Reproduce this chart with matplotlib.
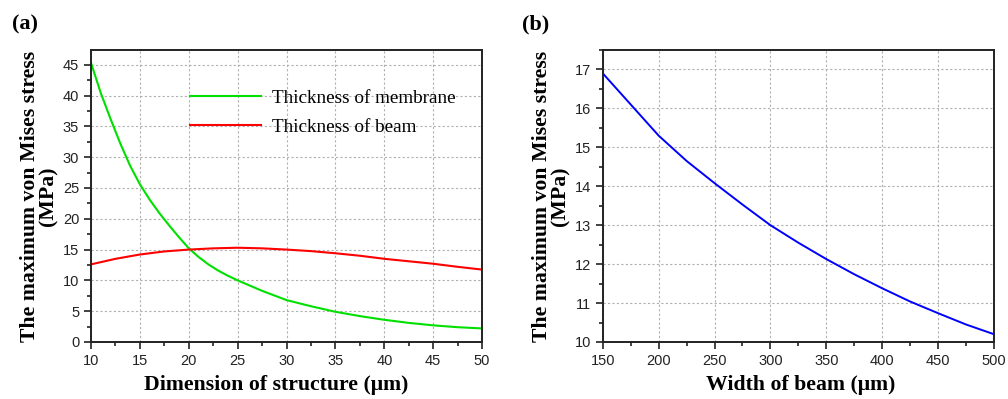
import numpy as np
import matplotlib.pyplot as plt
from matplotlib.ticker import MultipleLocator

# panel (a): max von Mises stress vs structure dimension
dim_um = [10, 11, 12, 13, 14, 15, 16, 17, 18, 19, 20, 21, 22, 23, 24, 25, 27.5, 30, 32.5, 35, 37.5, 40, 42.5, 45, 47.5, 50]
membrane_mpa = [45.3, 40.4, 36.2, 32.2, 28.6, 25.6, 23.1, 20.9, 18.9, 17.0, 15.2, 13.8, 12.6, 11.6, 10.75, 10.0, 8.3, 6.8, 5.8, 4.9, 4.2, 3.6, 3.1, 2.7, 2.4, 2.2]

dim_beam_um = [10, 12.5, 15, 17.5, 20, 22.5, 25, 27.5, 30, 32.5, 35, 37.5, 40, 42.5, 45, 47.5, 50]
beam_mpa = [12.6, 13.5, 14.2, 14.7, 15.0, 15.2, 15.3, 15.2, 15.0, 14.75, 14.4, 14.0, 13.5, 13.1, 12.7, 12.2, 11.75]

# panel (b): max von Mises stress vs beam width
width_um = [150, 175, 200, 225, 250, 275, 300, 325, 350, 375, 400, 425, 450, 475, 500]
width_mpa = [16.9, 16.1, 15.3, 14.65, 14.08, 13.53, 13.0, 12.55, 12.13, 11.74, 11.38, 11.04, 10.74, 10.45, 10.2]

serif = 'Liberation Serif'
sans = 'Liberation Sans'
ylab = 'The maximum von Mises stress\n(MPa)'


def style_axes(ax):
    for s in ax.spines.values():
        s.set_linewidth(1.4)
        s.set_color('#222222')
    ax.tick_params(which='both', direction='out', top=False, right=False, width=1.2, colors='#222222')
    ax.tick_params(which='major', length=5, labelsize=10.5)
    ax.tick_params(which='minor', length=3)
    ax.grid(True, which='major', linestyle=(0, (2, 2)), color='#b0b0b0', linewidth=0.8)
    for lab in ax.get_xticklabels() + ax.get_yticklabels():
        lab.set_fontfamily(sans)


fig = plt.figure(figsize=(10.08, 3.99), dpi=100)
ax1 = fig.add_axes([0.0903, 0.1429, 0.388, 0.7318])
ax2 = fig.add_axes([0.598, 0.1429, 0.388, 0.7318])

ax1.plot(dim_um, membrane_mpa, color='#00e000', lw=1.5, label='Thickness of membrane')
ax1.plot(dim_beam_um, beam_mpa, color='#ff0000', lw=1.5, label='Thickness of beam')
ax1.set_xlim(10, 50)
ax1.set_ylim(0, 47.4)
ax1.xaxis.set_major_locator(MultipleLocator(5))
ax1.xaxis.set_minor_locator(MultipleLocator(2.5))
ax1.yaxis.set_major_locator(MultipleLocator(5))
ax1.yaxis.set_minor_locator(MultipleLocator(2.5))
style_axes(ax1)
ax1.set_xlabel('Dimension of structure (\u03bcm)', family=serif, weight='bold', fontsize=15.7)
ax1.xaxis.set_label_coords(0.473, -0.112)
ax1.set_ylabel(ylab, family=serif, weight='bold', fontsize=15.7, labelpad=3, linespacing=0.9)
leg = ax1.legend(loc='upper left', bbox_to_anchor=(0.209, 0.925), frameon=False,
                 prop={'family': serif, 'size': 13.8}, handlelength=3.7, labelspacing=0.62, handletextpad=0.6)

ax2.plot(width_um, width_mpa, color='#0000ff', lw=1.4)
ax2.set_xlim(150, 500)
ax2.set_ylim(10, 17.5)
ax2.xaxis.set_major_locator(MultipleLocator(50))
ax2.xaxis.set_minor_locator(MultipleLocator(25))
ax2.yaxis.set_major_locator(MultipleLocator(1))
ax2.yaxis.set_minor_locator(MultipleLocator(0.5))
style_axes(ax2)
ax2.set_xlabel('Width of beam (\u03bcm)', family=serif, weight='bold', fontsize=15.7)
ax2.xaxis.set_label_coords(0.505, -0.112)
ax2.set_ylabel(ylab, family=serif, weight='bold', fontsize=15.7, labelpad=3, linespacing=0.9)

fig.text(0.012, 0.925, '(a)', family=serif, weight='bold', fontsize=16)
fig.text(0.518, 0.925, '(b)', family=serif, weight='bold', fontsize=16)

fig.savefig('out.png', dpi=100)
